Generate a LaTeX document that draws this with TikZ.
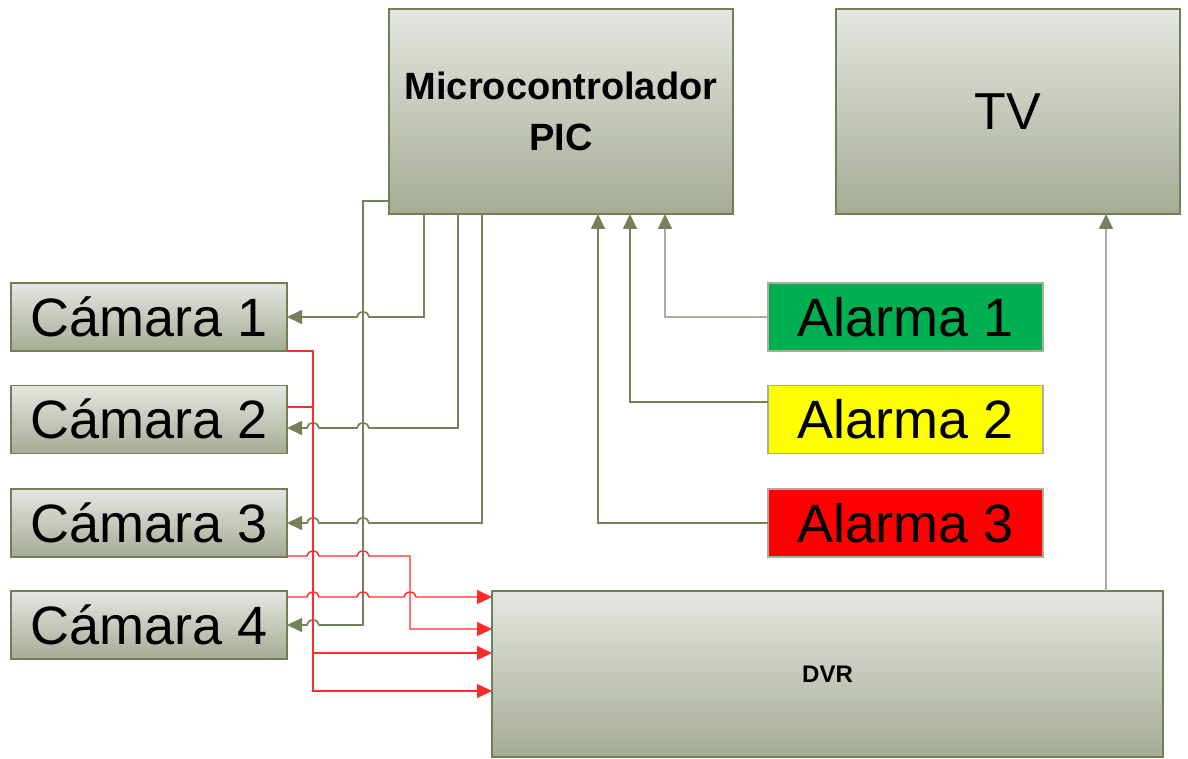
\documentclass[tikz,border=0pt]{standalone}
\usepackage{fontspec}
\setmainfont{Liberation Sans}
\usetikzlibrary{arrows.meta,calc}
\definecolor{boxtop}{HTML}{E4E7E1}
\definecolor{boxbot}{HTML}{A5AC94}
\definecolor{boxline}{HTML}{6F8056}
\definecolor{cdark}{HTML}{72825A}
\definecolor{clight}{HTML}{A7AF9D}
\definecolor{redl}{HTML}{FF2A2A}
\definecolor{alg}{HTML}{00B050}
\definecolor{aly}{HTML}{FFFF00}
\definecolor{alr}{HTML}{FF0000}
\tikzset{
  box/.style={draw=boxline, line width=1.8pt, top color=boxtop, bottom color=boxbot, inner sep=0pt, outer sep=0pt, anchor=north west},
  cambox/.style={box, minimum width=276pt, minimum height=68pt, font=\fontsize{54}{60}\selectfont, text height=38.7pt, text depth=0pt},
  alabox/.style={draw=clight, line width=1.4pt, inner sep=0pt, outer sep=0pt, anchor=north west, minimum width=275pt, minimum height=68pt, font=\fontsize{54}{60}\selectfont, text height=38.7pt, text depth=0pt},
  ctl/.style={draw=cdark, line width=1.7pt, -{Triangle[length=15pt,width=14pt,color=cdark]}},
  ctll/.style={draw=clight, line width=1.7pt, -{Triangle[length=15pt,width=14pt,color=cdark]}},
  sig/.style={draw=redl, line width=1.4pt, -{Triangle[length=15pt,width=14pt,color=redl]}},
}
\begin{document}
\begin{tikzpicture}[x=1pt,y=1pt]
\useasboundingbox (0,0) rectangle (1188,-759);
% boxes
\node[box, minimum width=344pt, minimum height=205pt, align=center, font=\bfseries\fontsize{38}{51}\selectfont] (mc) at (389,-9) {Microcontrolador\\PIC};
\node[box, minimum width=344pt, minimum height=205pt, font=\fontsize{52}{60}\selectfont] (tv) at (836,-9) {TV};
\node[cambox] (c1) at (11,-283) {Cámara 1};
\node[cambox] (c2) at (11,-385.5) {Cámara 2};
\node[cambox] (c3) at (11,-489) {Cámara 3};
\node[cambox] (c4) at (11,-591) {Cámara 4};
\node[alabox, fill=alg] (a1) at (768,-283) {Alarma 1};
\node[alabox, fill=aly] (a2) at (768,-385.5) {Alarma 2};
\node[alabox, fill=alr] (a3) at (768,-489) {Alarma 3};
\node[box, minimum width=671pt, minimum height=166pt, font=\bfseries\fontsize{24}{28}\selectfont] (dvr) at (492,-591) {DVR};

% control lines micro -> cameras
\draw[ctl] ($(mc.south west)+(35,0)$) -- (424,-317) -- (369,-317)
  arc[start angle=0,end angle=180,x radius=6,y radius=5] -- (c1.east);
\draw[ctl] ($(mc.south west)+(69,0)$) -- (458,-428) -- (369,-428)
  arc[start angle=0,end angle=180,x radius=6,y radius=5] -- (319,-428)
  arc[start angle=0,end angle=180,x radius=6,y radius=5] -- (c2.east |- 0,-428);
\draw[ctl] ($(mc.south west)+(93,0)$) -- (482,-523) -- (369,-523)
  arc[start angle=0,end angle=180,x radius=6,y radius=5] -- (319,-523)
  arc[start angle=0,end angle=180,x radius=6,y radius=5] -- (c3.east);
\draw[ctl] (mc.west |- 0,-201) -- (363,-201) -- (363,-625) -- (319,-625)
  arc[start angle=0,end angle=180,x radius=6,y radius=5] -- (c4.east);

% alarms -> micro
\draw[ctll] (a1.west) -| ($(mc.south west)+(276,0)$);
\draw[ctl] (a2.west |- 0,-402) -| ($(mc.south west)+(241,0)$);
\draw[ctl] (a3.west) -| ($(mc.south west)+(209,0)$);

% DVR -> TV
\draw[ctll] ($(dvr.north west)+(614,0)$) -- ($(tv.south west)+(270,0)$);

% video lines cameras -> DVR
\draw[sig] (c1.south east) -- (313,-351) -- (313,-691) -- (dvr.west |- 0,-691);
\draw[sig] (c2.east |- 0,-407) -- (313,-407) -- (313,-653) -- (dvr.west |- 0,-653);
\draw[sig] (c3.east |- 0,-556) -- (307,-556)
  arc[start angle=180,end angle=0,x radius=6,y radius=5] -- (357,-556)
  arc[start angle=180,end angle=0,x radius=6,y radius=5] -- (410,-556) -- (410,-629) -- (dvr.west |- 0,-629);
\draw[sig] (c4.east |- 0,-597) -- (307,-597)
  arc[start angle=180,end angle=0,x radius=6,y radius=5] -- (357,-597)
  arc[start angle=180,end angle=0,x radius=6,y radius=5] -- (404,-597)
  arc[start angle=180,end angle=0,x radius=6,y radius=5] -- (dvr.west |- 0,-597);
\end{tikzpicture}
\end{document}
